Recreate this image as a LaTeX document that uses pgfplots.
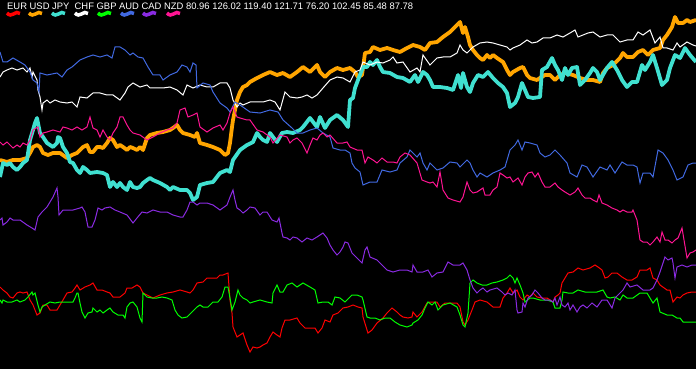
\documentclass[border=0pt]{standalone}
\usepackage{pgfplots}
\pgfplotsset{compat=1.18}
\usepackage{fontspec}
\setmainfont{Liberation Sans}
\definecolor{eurc}{HTML}{FF0000}
\definecolor{usdc}{HTML}{FFA500}
\definecolor{jpyc}{HTML}{40E0D0}
\definecolor{chfc}{HTML}{FFFFFF}
\definecolor{gbpc}{HTML}{00FF00}
\definecolor{audc}{HTML}{4169E1}
\definecolor{cadc}{HTML}{8A2BE2}
\definecolor{nzdc}{HTML}{FF1493}
\begin{document}
\begin{tikzpicture}[x=1bp,y=1bp]
\fill[black] (0,0) rectangle (696,369);
\begin{axis}[at={(0,0)},anchor=south west,width=696bp,height=369bp,scale only axis,
  xmin=0,xmax=696,ymin=0,ymax=369,y dir=reverse,hide axis,clip=true]
% USD (thick)
\addplot[usdc,line width=3.8bp,line join=round] coordinates {(0,160)(7,162)(13,160)(20,160)(27,158)(30,153)(33,147)(37,145)(40,147)(43,153)(48,155)(53,153)(60,153)(67,158)(72,155)(77,153)(83,147)(87,145)(90,152)(93,152)(97,147)(100,147)(103,148)(107,143)(110,138)(113,140)(117,147)(120,145)(123,147)(127,150)(130,147)(133,148)(137,150)(140,147)(143,150)(147,138)(150,135)(157,133)(163,132)(170,130)(173,128)(177,125)(180,130)(183,133)(190,135)(195,137)(197,133)(200,143)(207,145)(213,147)(220,150)(225,155)(228,153)(230,143)(232,127)(233,120)(237,100)(240,92)(243,87)(247,85)(250,82)(257,78)(263,75)(270,72)(277,75)(283,73)(290,77)(297,72)(303,67)(310,72)(317,65)(320,72)(325,77)(330,72)(337,68)(343,70)(350,68)(355,72)(358,77)(362,75)(365,53)(370,52)(373,47)(380,50)(387,48)(393,50)(400,52)(407,48)(413,45)(420,47)(425,50)(430,43)(437,42)(443,37)(450,32)(457,25)(460,22)(463,33)(465,27)(468,37)(470,45)(473,50)(477,55)(480,58)(483,60)(487,55)(490,58)(493,55)(497,58)(503,62)(507,70)(510,75)(513,72)(520,68)(523,67)(527,75)(530,78)(537,80)(540,78)(545,75)(550,75)(555,80)(560,75)(565,73)(573,75)(580,78)(587,80)(593,80)(600,82)(603,73)(607,68)(613,65)(620,58)(623,53)(627,57)(633,57)(638,52)(643,50)(648,55)(653,50)(660,48)(663,40)(667,35)(672,27)(675,17)(678,23)(683,23)(687,20)(690,22)(696,20)};
% JPY (thick)
\addplot[jpyc,line width=3.8bp,line join=round] coordinates {(0,177)(3,163)(7,165)(10,163)(13,167)(17,170)(20,167)(23,163)(27,160)(30,140)(33,130)(35,123)(37,118)(40,133)(43,137)(47,143)(50,145)(53,147)(57,143)(58,137)(60,138)(63,147)(67,153)(70,162)(73,163)(77,170)(80,173)(83,167)(87,170)(90,173)(97,172)(103,173)(107,175)(110,187)(113,182)(117,187)(120,183)(123,187)(127,190)(130,182)(133,187)(137,188)(140,187)(143,183)(147,180)(150,178)(153,180)(160,183)(167,187)(170,190)(173,187)(180,190)(187,190)(190,193)(193,200)(197,197)(200,185)(207,183)(213,182)(220,173)(227,170)(230,172)(233,160)(240,150)(247,145)(253,142)(257,133)(260,137)(263,140)(267,142)(270,133)(273,137)(277,142)(282,133)(287,132)(293,133)(300,130)(303,127)(310,118)(317,127)(320,117)(325,128)(330,120)(337,115)(343,120)(348,127)(350,100)(353,98)(355,88)(358,80)(363,67)(367,67)(370,62)(373,65)(377,60)(380,67)(383,72)(390,73)(397,77)(403,78)(410,82)(415,75)(418,82)(423,72)(427,75)(430,80)(433,87)(440,87)(447,88)(453,90)(458,75)(461,88)(463,73)(467,87)(470,92)(473,83)(478,75)(483,77)(488,72)(493,78)(498,83)(503,87)(507,93)(510,107)(515,103)(518,97)(522,83)(525,90)(528,97)(533,98)(540,97)(542,70)(547,67)(552,58)(555,65)(558,70)(562,80)(565,68)(568,75)(572,68)(577,67)(580,85)(585,80)(590,73)(593,68)(597,72)(600,80)(607,68)(612,62)(617,70)(622,80)(627,87)(632,82)(637,82)(642,65)(645,70)(650,62)(653,55)(657,68)(662,85)(667,80)(670,68)(675,55)(680,58)(685,48)(690,55)(696,62)};
% EUR
\addplot[eurc,line width=1bp] coordinates {(0,287)(3,290)(7,293)(10,297)(13,298)(17,293)(20,292)(23,293)(27,292)(30,300)(33,305)(37,315)(40,313)(43,305)(47,305)(50,310)(53,310)(57,310)(60,305)(63,300)(67,293)(72,292)(75,288)(77,285)(80,290)(85,287)(90,285)(93,283)(97,290)(102,290)(107,292)(110,293)(113,297)(120,297)(125,293)(127,288)(132,288)(137,285)(140,287)(143,293)(147,295)(153,298)(160,295)(167,293)(173,292)(180,290)(187,292)(190,293)(193,290)(197,283)(203,282)(207,278)(210,278)(217,278)(220,275)(223,275)(228,273)(230,300)(232,313)(233,327)(237,337)(240,335)(243,333)(247,345)(250,352)(253,347)(257,348)(260,347)(263,345)(267,343)(270,337)(273,332)(277,335)(280,337)(282,328)(285,320)(290,320)(297,318)(300,323)(305,328)(310,328)(315,328)(318,333)(322,328)(325,320)(330,322)(333,315)(338,313)(343,308)(348,307)(353,305)(358,307)(362,308)(363,317)(367,330)(368,333)(372,330)(377,323)(383,318)(387,313)(392,308)(397,312)(400,315)(403,317)(408,318)(412,317)(413,312)(417,317)(422,312)(427,303)(430,302)(437,302)(440,307)(445,303)(450,303)(457,303)(460,307)(463,322)(465,325)(468,320)(472,310)(475,302)(480,300)(487,302)(493,307)(500,307)(503,298)(507,293)(510,288)(513,293)(517,290)(520,297)(523,300)(527,295)(530,297)(533,293)(537,297)(542,298)(547,298)(550,300)(553,302)(555,297)(558,295)(560,293)(562,283)(565,278)(568,273)(573,272)(578,268)(583,270)(590,268)(595,265)(598,267)(602,270)(605,278)(608,277)(612,273)(617,273)(622,277)(627,280)(632,280)(637,277)(640,270)(647,270)(650,268)(653,278)(657,280)(660,285)(667,290)(670,290)(673,302)(677,297)(680,298)(683,295)(687,293)(692,292)(696,292)};
% CHF
\addplot[chfc,line width=1bp] coordinates {(0,77)(3,72)(7,70)(12,68)(17,70)(23,68)(27,72)(30,68)(32,77)(33,72)(37,80)(38,90)(40,97)(42,110)(43,103)(47,100)(50,103)(55,100)(60,102)(67,103)(72,102)(77,107)(80,97)(87,98)(93,93)(100,93)(107,95)(113,95)(120,100)(125,93)(128,87)(133,83)(140,87)(147,85)(150,88)(157,88)(163,88)(170,87)(177,90)(183,95)(187,85)(193,88)(200,85)(207,87)(213,87)(220,83)(227,83)(230,88)(233,100)(237,107)(240,103)(243,105)(250,102)(257,102)(263,102)(270,100)(275,102)(280,110)(285,92)(290,97)(297,98)(302,97)(307,95)(312,98)(317,95)(323,88)(330,80)(337,77)(343,78)(350,82)(355,72)(360,70)(363,62)(370,65)(377,62)(383,63)(390,60)(393,57)(397,63)(403,62)(410,72)(417,68)(420,72)(423,55)(430,65)(437,58)(443,57)(450,57)(457,53)(460,45)(463,50)(467,53)(470,50)(473,47)(480,43)(487,42)(493,43)(500,45)(507,47)(510,50)(513,48)(520,45)(527,40)(532,43)(537,42)(543,38)(550,38)(557,35)(563,37)(570,33)(575,30)(578,37)(583,35)(588,33)(593,32)(600,37)(607,35)(613,35)(620,42)(627,40)(633,40)(638,32)(643,35)(650,30)(655,43)(660,37)(663,48)(667,48)(673,50)(677,43)(680,47)(687,42)(693,45)(696,46)};
% GBP
\addplot[gbpc,line width=1bp] coordinates {(0,300)(2,303)(3,300)(7,302)(12,302)(17,300)(20,302)(25,300)(28,297)(32,292)(33,295)(35,293)(38,305)(40,312)(42,307)(45,305)(50,302)(55,303)(60,302)(67,302)(73,302)(75,298)(77,293)(78,293)(80,303)(82,312)(85,318)(88,313)(92,312)(93,308)(97,312)(100,310)(103,313)(107,310)(110,308)(113,312)(118,315)(123,315)(125,318)(127,307)(130,303)(133,302)(137,307)(140,318)(142,322)(143,293)(147,297)(152,298)(157,298)(162,297)(167,298)(172,300)(175,310)(178,315)(182,318)(187,317)(192,312)(197,307)(200,305)(203,307)(208,307)(213,302)(218,302)(222,297)(225,287)(228,287)(230,298)(232,310)(235,302)(238,290)(240,295)(243,298)(247,300)(250,303)(253,302)(260,300)(267,302)(272,303)(273,293)(277,285)(280,292)(283,292)(287,285)(292,283)(297,287)(303,283)(310,287)(315,290)(318,303)(323,302)(328,302)(332,305)(335,297)(340,298)(345,302)(352,295)(357,295)(362,297)(363,300)(367,317)(370,318)(375,318)(380,320)(385,318)(390,318)(395,322)(400,325)(407,327)(412,325)(413,323)(418,320)(422,315)(425,308)(428,302)(432,305)(435,302)(438,310)(443,305)(450,303)(457,307)(460,315)(463,325)(465,327)(468,313)(470,283)(473,280)(477,283)(482,285)(487,285)(492,283)(497,282)(503,280)(507,278)(510,275)(513,278)(515,283)(517,278)(520,285)(523,293)(525,302)(530,298)(533,298)(540,300)(547,300)(553,302)(555,308)(560,308)(562,300)(563,292)(568,293)(573,293)(578,290)(585,292)(590,292)(597,292)(603,290)(607,297)(610,298)(615,297)(620,300)(623,295)(627,298)(633,298)(640,293)(647,293)(650,298)(653,303)(657,298)(660,312)(667,315)(672,315)(677,318)(680,318)(683,322)(687,322)(696,322)};
% AUD
\addplot[audc,line width=1bp] coordinates {(0,52)(3,62)(7,62)(13,58)(20,62)(25,65)(30,72)(33,80)(37,83)(39,92)(40,73)(47,75)(57,73)(62,77)(67,70)(72,67)(80,60)(87,57)(93,55)(100,57)(107,55)(112,58)(115,47)(120,47)(125,50)(130,55)(133,53)(138,57)(143,58)(148,67)(153,75)(160,75)(163,80)(170,75)(177,72)(182,65)(187,67)(190,72)(193,63)(196,65)(197,88)(203,83)(210,85)(213,92)(220,103)(227,108)(230,112)(235,102)(240,105)(250,112)(260,113)(270,110)(278,112)(283,120)(292,128)(297,133)(303,133)(310,130)(317,128)(323,133)(330,137)(333,148)(340,150)(345,150)(350,153)(352,163)(355,168)(360,172)(363,185)(370,182)(377,182)(382,170)(390,172)(397,170)(400,163)(407,157)(410,150)(417,157)(420,153)(423,163)(427,170)(430,163)(437,170)(443,168)(450,162)(457,163)(460,167)(467,160)(470,163)(473,170)(477,177)(480,173)(487,177)(493,173)(500,170)(505,167)(510,150)(515,145)(518,140)(522,150)(525,142)(530,143)(537,145)(540,153)(545,157)(550,155)(555,150)(560,155)(567,163)(570,173)(577,177)(582,165)(587,167)(593,177)(600,167)(607,170)(610,165)(615,173)(622,162)(627,165)(633,165)(637,167)(640,183)(643,173)(650,173)(653,177)(658,150)(663,153)(668,160)(673,170)(677,180)(683,177)(688,165)(693,163)(696,163)};
% CAD
\addplot[cadc,line width=1bp] coordinates {(0,220)(2,218)(3,225)(7,222)(10,218)(13,220)(20,220)(27,225)(32,228)(35,230)(38,217)(42,212)(47,207)(50,202)(53,197)(57,188)(58,197)(59,215)(63,210)(67,210)(73,210)(80,208)(82,207)(85,212)(88,227)(92,227)(95,220)(98,208)(102,210)(105,208)(110,207)(115,210)(120,212)(127,215)(133,223)(137,218)(142,212)(147,213)(153,210)(160,212)(167,212)(173,215)(180,217)(183,217)(187,210)(190,202)(193,202)(197,205)(200,203)(207,203)(213,205)(220,210)(227,205)(230,197)(233,190)(235,200)(237,208)(240,210)(243,213)(247,210)(250,207)(255,208)(260,215)(263,212)(267,212)(272,220)(277,222)(279,218)(282,233)(283,237)(287,238)(290,240)(293,237)(297,238)(302,242)(307,238)(312,240)(317,237)(323,233)(327,238)(330,245)(333,250)(337,255)(340,252)(343,247)(345,242)(348,243)(352,253)(357,258)(362,263)(365,250)(367,247)(370,257)(377,260)(382,265)(387,270)(393,272)(400,270)(407,270)(412,272)(413,265)(417,272)(423,272)(428,270)(432,277)(437,273)(443,272)(448,262)(453,265)(460,265)(463,263)(467,270)(470,280)(473,288)(477,293)(480,290)(483,288)(487,292)(490,290)(497,288)(502,292)(505,295)(508,293)(512,295)(515,290)(517,310)(518,313)(522,312)(523,303)(525,307)(528,298)(532,295)(535,290)(538,293)(542,298)(545,300)(550,300)(553,302)(555,298)(557,305)(560,297)(562,305)(565,307)(568,303)(570,310)(573,305)(577,312)(580,307)(583,305)(587,308)(592,303)(597,307)(602,300)(607,300)(612,308)(615,298)(620,293)(623,290)(627,283)(630,287)(637,285)(643,290)(650,290)(653,288)(657,280)(660,272)(665,257)(668,260)(672,258)(673,263)(675,278)(677,267)(682,265)(687,267)(692,265)(696,265)};
% NZD
\addplot[nzdc,line width=1bp] coordinates {(0,142)(3,145)(7,142)(10,145)(13,148)(17,145)(20,147)(23,143)(27,145)(30,140)(33,130)(38,127)(40,137)(43,133)(47,132)(53,130)(60,132)(63,127)(67,128)(72,130)(77,127)(82,130)(87,127)(90,117)(93,128)(97,130)(100,137)(103,130)(107,137)(110,140)(113,133)(117,127)(120,117)(123,117)(127,125)(130,130)(133,133)(140,135)(147,140)(153,137)(160,133)(167,130)(173,128)(177,123)(180,110)(185,108)(188,117)(193,115)(197,113)(200,127)(207,132)(213,128)(220,125)(223,130)(227,123)(230,113)(233,107)(237,117)(240,118)(247,120)(250,120)(257,130)(263,132)(270,137)(273,143)(280,135)(287,137)(290,143)(293,140)(297,138)(302,143)(307,153)(310,145)(313,138)(317,140)(320,135)(323,133)(327,137)(330,135)(337,143)(343,143)(347,142)(350,147)(357,150)(362,150)(365,163)(368,157)(373,160)(377,163)(382,158)(387,162)(393,162)(397,163)(400,157)(405,153)(410,155)(417,163)(422,180)(427,182)(430,183)(433,182)(437,187)(440,172)(443,190)(448,198)(453,200)(460,202)(463,197)(467,182)(470,190)(473,193)(477,192)(480,190)(483,188)(485,195)(490,195)(493,190)(497,187)(500,173)(503,175)(507,178)(510,177)(513,182)(518,178)(522,185)(525,177)(528,173)(532,172)(535,177)(538,173)(542,182)(545,187)(550,187)(555,183)(558,187)(562,190)(565,192)(570,195)(575,192)(578,188)(582,195)(585,198)(590,198)(593,200)(597,202)(599,195)(602,203)(607,205)(612,208)(617,210)(620,212)(623,210)(627,212)(632,212)(633,210)(637,220)(640,240)(643,242)(647,242)(650,245)(653,242)(657,237)(660,242)(662,232)(665,240)(668,240)(672,243)(675,240)(678,238)(682,228)(684,240)(687,258)(690,253)(693,252)(696,250)};
\end{axis}
% legend
\node[anchor=base west,inner sep=0pt,text=white] at (7,359) {\resizebox{406bp}{!}{EUR USD JPY\ \ CHF GBP AUD CAD NZD 80.96 126.02 119.40 121.71 76.20 102.45 85.48 87.78}};
\foreach \xx/\cc in {7/eurc,29/usdc,52/jpyc,75/chfc,98/gbpc,121/audc,143/cadc,167/nzdc}{
  \draw[\cc,line width=3.5bp] (\xx,356) sin (\xx+3.25,354) cos (\xx+6.5,355) sin (\xx+9.75,356.5) cos (\xx+13,355.5);
}
\end{tikzpicture}
\end{document}
